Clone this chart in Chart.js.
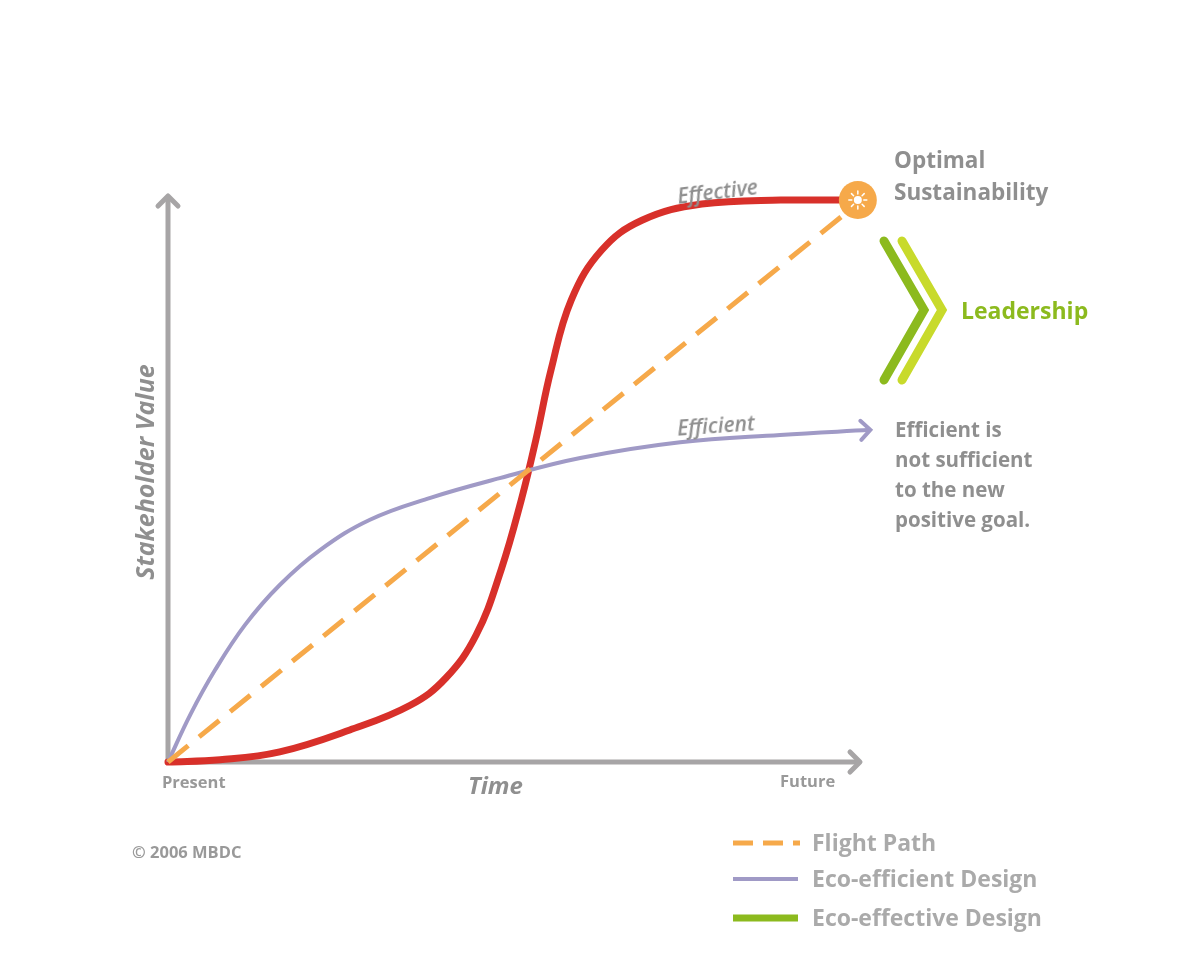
<!DOCTYPE html>
<html><head><meta charset="utf-8">
<script src="https://cdn.jsdelivr.net/npm/chart.js@4"></script>
<style>
body{margin:0;background:#fff;font-family:"Open Sans",sans-serif;}
#wrap{position:relative;width:1200px;height:960px;}
.t{position:absolute;color:#999;font-weight:700;white-space:nowrap;}
</style></head><body>
<div id="wrap"><canvas id="c" width="1200" height="960"></canvas>
<div class="t" style="left:894px;top:144px;font-size:22.5px;line-height:32px;color:#8f8f8f">Optimal<br>Sustainability</div>
<div class="t" style="left:961px;top:294px;font-size:23px;color:#8cba1e">Leadership</div>
<div class="t" style="left:895px;top:414px;font-size:20.5px;line-height:30px;color:#8f8f8f">Efficient is<br>not sufficient<br>to the new<br>positive goal.</div>
<div class="t" style="left:162px;top:770px;font-size:16.5px;">Present</div>
<div class="t" style="left:780px;top:769px;font-size:16.5px;">Future</div>
<div class="t" style="left:468px;top:768px;font-size:24px;font-style:italic;color:#8f8f8f">Time</div>
<div class="t" style="left:24px;top:455px;font-size:25px;font-style:italic;color:#8f8f8f;transform:rotate(-90deg);transform-origin:center;width:240px;text-align:center">Stakeholder Value</div>
<div class="t" style="left:677px;top:411px;font-size:21px;font-style:italic;font-weight:600;color:#8f8f8f;transform:rotate(-4deg)">Efficient</div>
<div class="t" style="left:677px;top:177px;font-size:21px;font-style:italic;font-weight:600;color:#8f8f8f;transform:rotate(-7deg)">Effective</div>
<div class="t" style="left:132px;top:840px;font-size:16.5px;">© 2006 MBDC</div>
<div class="t" style="left:812px;top:826px;font-size:23px;color:#aaa">Flight Path</div>
<div class="t" style="left:812px;top:862px;font-size:23px;color:#aaa">Eco-efficient Design</div>
<div class="t" style="left:812px;top:901px;font-size:23px;color:#aaa">Eco-effective Design</div>
</div>
<script>
const effectiveX=[0,7.5,16.1,26.2,34.9,40,44.4,48.0,50.9,53.0,55.2,58.1,62.5,68.3,76.9,88.3,99.4];
const effectiveY=[0,0.4,1.8,5.7,10.1,14.9,22.6,34.2,46.6,57.3,69.8,82.2,91.1,96.4,99.3,100,100];
const efficientX=[0,3.2,6.8,11.1,16.1,21.9,29.1,37.8,47.8,59.4,73.8,88.2,101.2];
const efficientY=[0,8.4,16.4,24.4,31.5,37.7,43.1,47.0,50.5,54.1,56.9,58.2,59.1];
const flightX=[0,99];
const flightY=[0,99];
const pts=(xs,ys)=>xs.map((x,i)=>({x,y:ys[i]}));
const GRAY='#a7a5a6';
function arrow(ctx,x,y,dir,col,s){ctx.save();ctx.strokeStyle=col;ctx.lineWidth=5;ctx.lineCap='round';ctx.lineJoin='round';ctx.beginPath();
if(dir==='up'){ctx.moveTo(x-s,y+s);ctx.lineTo(x,y);ctx.lineTo(x+s,y+s);}else{ctx.moveTo(x-s,y-s);ctx.lineTo(x,y);ctx.lineTo(x-s,y+s);}
ctx.stroke();ctx.restore();}
const deco={id:'deco',beforeDatasetsDraw(ch){const c=ch.ctx,a=ch.chartArea;c.save();
c.strokeStyle=GRAY;c.lineWidth=5;c.beginPath();c.moveTo(a.left,a.bottom);c.lineTo(a.left,196);c.moveTo(a.left,a.bottom);c.lineTo(860,a.bottom);c.stroke();
arrow(c,a.left,196,'up',GRAY,10);arrow(c,860,a.bottom,'right',GRAY,10);
c.lineWidth=5;c.strokeStyle='#f6a94a';c.setLineDash([20,10]);c.beginPath();c.moveTo(733,843);c.lineTo(800,843);c.stroke();c.setLineDash([]);
c.strokeStyle='#a09ac6';c.lineWidth=4;c.beginPath();c.moveTo(733,879);c.lineTo(798,879);c.stroke();
c.strokeStyle='#8cba1e';c.lineWidth=7;c.beginPath();c.moveTo(733,918);c.lineTo(798,918);c.stroke();
c.lineWidth=9;c.lineCap='round';c.strokeStyle='#c8da2b';c.beginPath();c.moveTo(902,241);c.lineTo(942,310);c.lineTo(902,380);c.stroke();
c.strokeStyle='#8cba1e';c.beginPath();c.moveTo(884,241);c.lineTo(924,310);c.lineTo(884,380);c.stroke();
c.restore();},
afterDatasetsDraw(ch){const c=ch.ctx,xs=ch.scales.x,ys=ch.scales.y;
const e=efficientX.length-1;const ex=xs.getPixelForValue(efficientX[e]),ey=ys.getPixelForValue(efficientY[e]);
c.save();c.strokeStyle='#a09ac6';c.lineWidth=4;c.lineCap='round';c.beginPath();c.moveTo(ex-10,ey-9);c.lineTo(ex,ey);c.lineTo(ex-9,ey+10);c.stroke();
const k=effectiveX.length-1;const sx=xs.getPixelForValue(effectiveX[k]),sy=ys.getPixelForValue(effectiveY[k]);
c.fillStyle='#f6a94a';c.beginPath();c.arc(sx,sy,19,0,7);c.fill();
c.strokeStyle='#fff';c.fillStyle='#fff';c.lineWidth=1.5;c.beginPath();c.arc(sx,sy,4,0,7);c.fill();
for(let i=0;i<8;i++){const t=i*Math.PI/4;c.beginPath();c.moveTo(sx+6*Math.cos(t),sy+6*Math.sin(t));c.lineTo(sx+9*Math.cos(t),sy+9*Math.sin(t));c.stroke();}
c.restore();}};
new Chart(document.getElementById('c'),{type:'scatter',
data:{datasets:[
{data:pts(flightX,flightY),showLine:true,borderColor:'#f6a94a',borderWidth:5,borderDash:[26,14],pointRadius:0,clip:false},
{data:pts(efficientX,efficientY),showLine:true,borderColor:'#a09ac6',borderWidth:4,pointRadius:0,tension:0.4,clip:false},
{data:pts(effectiveX,effectiveY),showLine:true,borderColor:'#d8302a',borderWidth:7,pointRadius:0,tension:0.4,borderCapStyle:'round',clip:false}]},
options:{responsive:false,animation:false,layout:{padding:{left:168,right:338,top:200,bottom:198}},
plugins:{legend:{display:false},tooltip:{enabled:false}},
scales:{x:{type:'linear',min:0,max:100,display:false},y:{min:0,max:100,display:false}}},
plugins:[deco]});
</script></body></html>
